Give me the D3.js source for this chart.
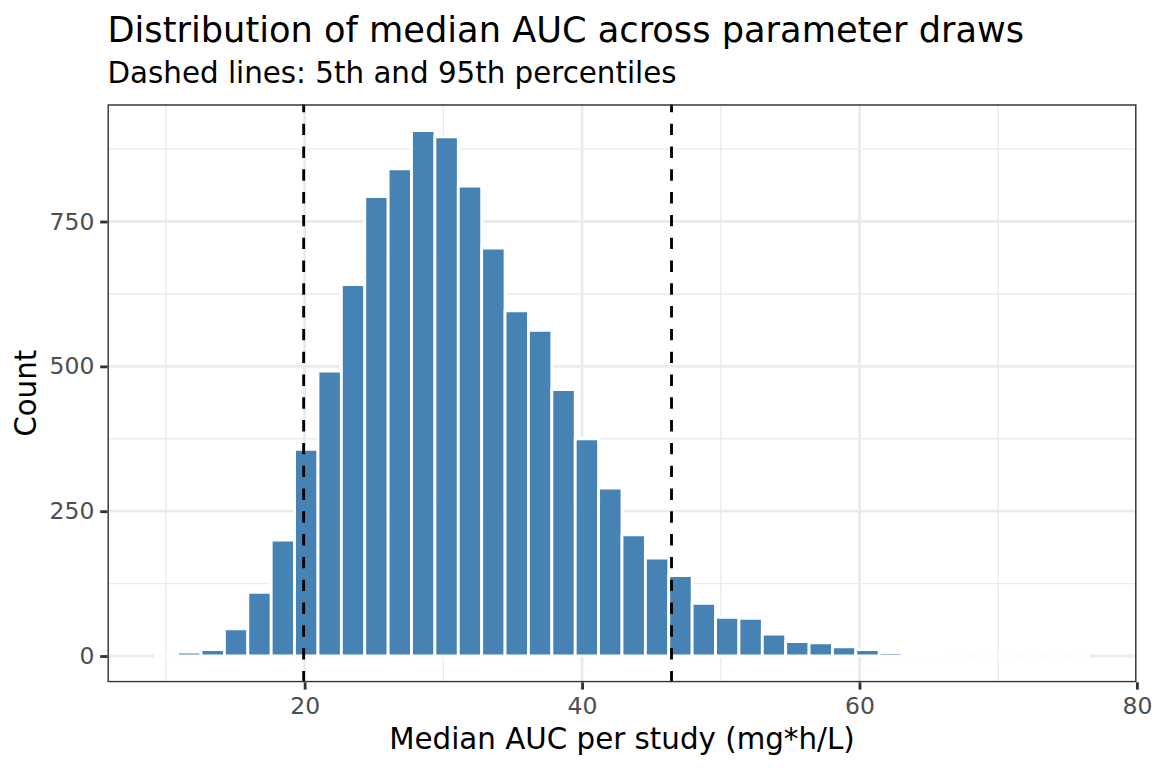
<!DOCTYPE html>
<html>
<head>
<meta charset="utf-8">
<script src="https://cdn.jsdelivr.net/npm/d3@7"></script>
<style>
  body { margin: 0; background: #fff; }
  svg text { font-family: "DejaVu Sans", sans-serif; }
</style>
</head>
<body>
<div id="chart"></div>
<script>
// histogram bins (40 bins), lower/upper edges in mg*h/L
var breaks = [9.160, 10.846, 12.532, 14.218, 15.904, 17.590, 19.276, 20.962, 22.648, 24.334,
              26.020, 27.706, 29.392, 31.078, 32.764, 34.450, 36.136, 37.822, 39.508, 41.194,
              42.880, 44.566, 46.252, 47.938, 49.624, 51.310, 52.996, 54.682, 56.368, 58.054,
              59.740, 61.426, 63.112, 64.798, 66.484, 68.170, 69.856, 71.542, 73.228, 74.914,
              76.600];
var counts = [0, 7, 11, 47, 110, 200, 357, 492, 641, 793,
              841, 907, 896, 811, 704, 596, 562, 460, 375, 290,
              209, 169, 139, 91, 67, 65, 38, 25, 23, 16,
              11, 6, 5, 3, 0, 0, 0, 0, 0, 0];
var percentiles = [19.93, 46.45];   // 5th, 95th
var xTicks = [20, 40, 60, 80],
    xMinor = [10, 30, 50, 70];
var yTicks = [0, 250, 500, 750],
    yMinor = [125, 375, 625, 875];

var titleText = "Distribution of median AUC across parameter draws",
    subtitleText = "Dashed lines: 5th and 95th percentiles",
    xLabel = "Median AUC per study (mg*h/L)",
    yLabel = "Count";

function init() {
    var W = 1152, H = 768;
    var margin = {top: 104.3, right: 15.5, bottom: 85.7, left: 107.5},
        w = W - margin.left - margin.right,
        h = H - margin.top - margin.bottom;

    var bins = counts.map(function(c, i) {
        return {x0: breaks[i], x1: breaks[i + 1], n: c};
    });

    // ggplot-like 5% expansion
    var xlo = breaks[0], xhi = breaks[breaks.length - 1],
        xpad = (xhi - xlo) * 0.05;
    var ymax = d3.max(counts), ypad = ymax * 0.05;

    var x = d3.scaleLinear().domain([xlo - xpad, xhi + xpad]).range([0, w]),
        y = d3.scaleLinear().domain([-ypad, ymax + ypad]).range([h, 0]);

    var svg = d3.select("#chart").append("svg")
        .attr("width", W)
        .attr("height", H);

    svg.append("rect").attr("width", W).attr("height", H).attr("fill", "#fff");

    svg.append("defs").append("clipPath").attr("id", "panel-clip")
      .append("rect").attr("width", w).attr("height", h);

    var g = svg.append("g")
        .attr("transform", "translate(" + margin.left + "," + margin.top + ")");

    var panel = g.append("g").attr("clip-path", "url(#panel-clip)");

    // grid
    panel.selectAll(".xminor").data(xMinor).enter().append("line")
        .attr("x1", x).attr("x2", x).attr("y1", 0).attr("y2", h)
        .attr("stroke", "#ebebeb").attr("stroke-width", 1.42);
    panel.selectAll(".yminor").data(yMinor).enter().append("line")
        .attr("x1", 0).attr("x2", w).attr("y1", y).attr("y2", y)
        .attr("stroke", "#ebebeb").attr("stroke-width", 1.42);
    panel.selectAll(".xmajor").data(xTicks).enter().append("line")
        .attr("x1", x).attr("x2", x).attr("y1", 0).attr("y2", h)
        .attr("stroke", "#ebebeb").attr("stroke-width", 2.85);
    panel.selectAll(".ymajor").data(yTicks).enter().append("line")
        .attr("x1", 0).attr("x2", w).attr("y1", y).attr("y2", y)
        .attr("stroke", "#ebebeb").attr("stroke-width", 2.85);

    // bars (paths so zero-height bins still get their white outline)
    panel.selectAll(".bar").data(bins).enter().append("path")
        .attr("class", "bar")
        .attr("d", function(d) {
            var x0 = x(d.x0), x1 = x(d.x1), y0 = y(0), y1 = y(d.n);
            return "M" + x0 + "," + y0 + "H" + x1 + "V" + y1 + "H" + x0 + "Z";
        })
        .attr("fill", "steelblue")
        .attr("stroke", "#fff")
        .attr("stroke-width", 2.85);

    // percentile lines, drawn bottom to top like ggplot
    panel.selectAll(".pct").data(percentiles).enter().append("line")
        .attr("x1", x).attr("x2", x).attr("y1", h).attr("y2", 0)
        .attr("stroke", "#000")
        .attr("stroke-width", 2.85)
        .attr("stroke-dasharray", "11.4 11.4");

    // border (clipped, so only the inner half shows)
    panel.append("rect")
        .attr("width", w).attr("height", h)
        .attr("fill", "none").attr("stroke", "#333333").attr("stroke-width", 2.85);

    // axes
    var xAxis = d3.axisBottom(x).tickValues(xTicks).tickSize(7.3).tickPadding(7.7),
        yAxis = d3.axisLeft(y).tickValues(yTicks).tickSize(7.3).tickPadding(5.9);

    var gx = g.append("g")
        .attr("transform", "translate(0," + h + ")")
        .call(xAxis);
    var gy = g.append("g").call(yAxis);

    [gx, gy].forEach(function(a) {
        a.select(".domain").remove();
        a.selectAll(".tick line").attr("stroke", "#333333").attr("stroke-width", 2.85);
        a.selectAll(".tick text")
            .attr("fill", "#4d4d4d")
            .style("font-size", "23.47px")
            .style("font-family", "'DejaVu Sans', sans-serif");
    });

    // titles
    svg.append("text")
        .attr("x", 107.5).attr("y", 41.7)
        .style("font-size", "35.2px")
        .attr("fill", "#000")
        .text(titleText);

    svg.append("text")
        .attr("x", 107.5).attr("y", 82.7)
        .style("font-size", "29.33px")
        .attr("fill", "#000")
        .text(subtitleText);

    svg.append("text")
        .attr("x", margin.left + w / 2).attr("y", 749)
        .attr("text-anchor", "middle")
        .style("font-size", "29.33px")
        .attr("fill", "#000")
        .text(xLabel);

    svg.append("text")
        .attr("transform", "translate(36," + (margin.top + h / 2) + ") rotate(-90)")
        .attr("text-anchor", "middle")
        .style("font-size", "29.33px")
        .attr("fill", "#000")
        .text(yLabel);
}
init();
</script>
</body>
</html>
